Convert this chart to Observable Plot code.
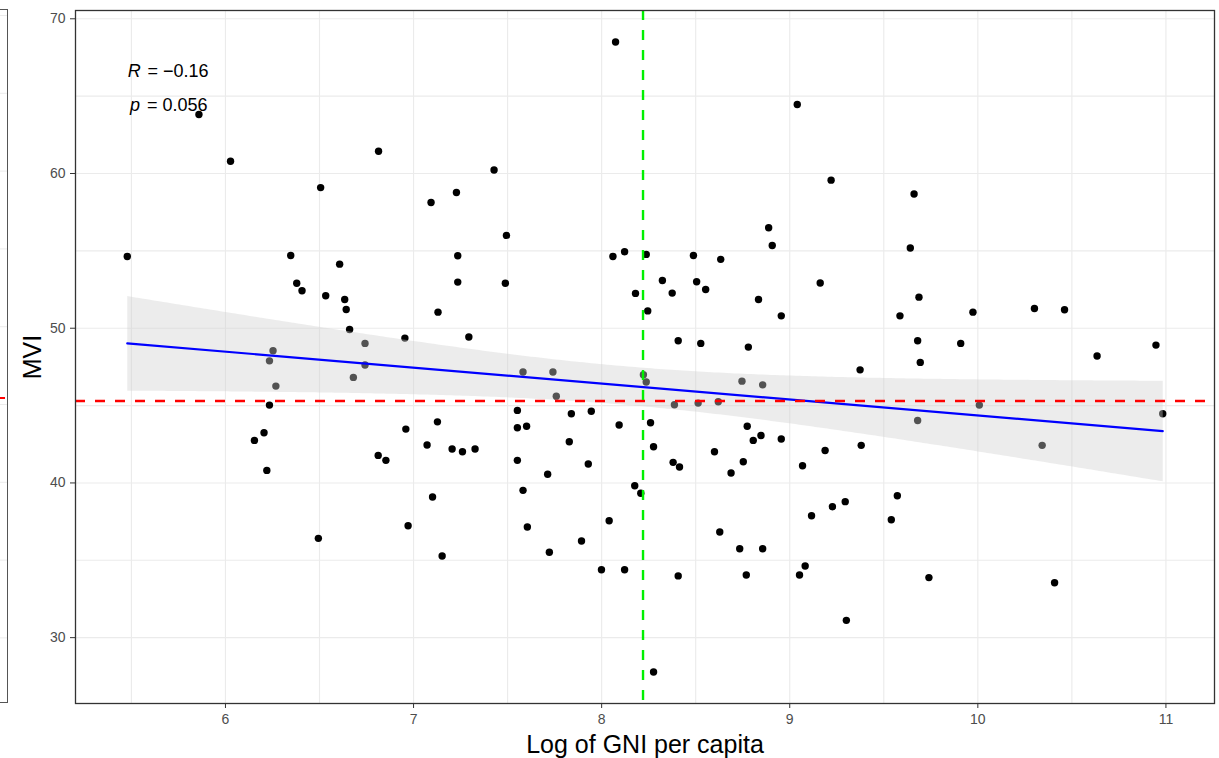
<!DOCTYPE html>
<html>
<head>
<meta charset="utf-8">
<script src="https://cdn.jsdelivr.net/npm/d3@7"></script>
<script src="https://cdn.jsdelivr.net/npm/@observablehq/plot@0.6"></script>
<style>
  html, body { margin: 0; padding: 0; background: #fff; }
  body { width: 1219px; height: 758px; position: relative; overflow: hidden; font-family: "Liberation Sans", Arial, sans-serif; }
  #chart { position: absolute; left: 0; top: 0; }
  #sliver {
    position: absolute; left: -2px; top: 9px; width: 8.5px; height: 692px;
    border: 1.4px solid #555; border-left: none;
    background-image: linear-gradient(to bottom, transparent 0, transparent 76.6px, #ebebeb 76.6px, #ebebeb 77.8px);
    background-size: 100% 77.8px;
    background-position: 0 6px;
    z-index: 2;
  }
  #sliverRef { position: absolute; left: 0; top: 397px; width: 5px; height: 2.4px; background: #ff0000; z-index: 3; }
</style>
</head>
<body>
<div id="chart"></div>
<div id="sliver"></div>
<div id="sliverRef"></div>
<script>
// Log of GNI per capita (x) and MVI (y)
const gniLog = [
  5.478, 5.859, 6.027, 6.506, 6.814, 6.347, 8.074, 9.040, 7.093, 7.228,
  7.428, 7.494, 7.235, 8.060, 8.122, 8.237, 8.488, 8.633, 8.888, 8.907,
  9.220, 9.661, 9.641, 6.379, 6.407, 6.533, 6.607, 6.634, 6.642, 6.660,
  6.742, 6.742, 6.680, 6.253, 6.234, 6.268, 6.234, 6.205, 6.154, 6.220,
  6.954, 6.959, 6.812, 6.853, 7.235, 7.488, 7.130, 7.294, 8.180, 8.245,
  8.323, 8.375, 8.505, 8.553, 8.834, 8.955, 9.162, 8.407, 8.527, 8.780,
  7.582, 7.741, 7.759, 8.222, 8.237, 8.746, 8.856, 8.387, 8.513, 8.620,
  7.127, 7.072, 7.205, 7.260, 7.327, 7.552, 7.552, 7.601, 7.839, 7.945,
  7.828, 7.552, 7.713, 7.929, 8.093, 8.260, 8.276, 8.380, 8.414, 8.600,
  8.688, 8.753, 8.774, 8.806, 8.847, 8.955, 9.068, 7.582, 7.101, 8.176,
  8.208, 9.687, 9.586, 9.974, 10.301, 10.461, 9.680, 9.909, 9.694, 10.634,
  10.947, 9.374, 10.008, 9.680, 10.342, 10.983, 9.188, 9.380, 9.572, 9.227,
  9.295, 6.494, 6.971, 7.152, 7.605, 7.722, 7.893, 8.040, 7.999, 8.122,
  8.407, 8.276, 8.628, 8.734, 8.856, 8.769, 9.052, 9.082, 9.116, 9.540,
  9.740, 10.408, 9.301
];
const mvi = [
  54.64, 63.81, 60.79, 59.09, 61.44, 54.70, 68.50, 64.46, 58.13, 58.77,
  60.23, 56.00, 54.68, 54.64, 54.94, 54.77, 54.70, 54.45, 56.49, 55.35,
  59.57, 58.68, 55.19, 52.91, 52.42, 52.10, 54.14, 51.86, 51.21, 49.92,
  49.02, 47.62, 46.82, 48.54, 47.89, 46.26, 45.03, 43.24, 42.75, 40.81,
  49.36, 43.48, 41.78, 41.46, 52.98, 52.91, 51.04, 49.43, 52.25, 51.12,
  53.08, 52.27, 53.00, 52.50, 51.86, 50.80, 52.92, 49.19, 49.02, 48.78,
  47.17, 47.17, 45.61, 46.99, 46.52, 46.58, 46.34, 45.05, 45.16, 45.25,
  43.95, 42.45, 42.19, 42.02, 42.19, 44.69, 43.57, 43.66, 44.47, 44.63,
  42.66, 41.46, 40.56, 41.22, 43.74, 43.89, 42.34, 41.33, 41.03, 42.02,
  40.64, 41.37, 43.66, 42.75, 43.07, 42.84, 41.11, 39.52, 39.09, 39.82,
  39.33, 52.01, 50.80, 51.04, 51.27, 51.19, 49.19, 49.02, 47.79, 48.20,
  48.91, 47.31, 45.03, 44.04, 42.43, 44.47, 42.10, 42.43, 39.17, 38.46,
  38.79, 36.42, 37.23, 35.28, 37.15, 35.52, 36.25, 37.56, 34.39, 34.39,
  33.99, 27.78, 36.83, 35.75, 35.75, 34.05, 34.05, 34.63, 37.88, 37.62,
  33.88, 33.55, 31.12
];
const xTicks = [6, 7, 8, 9, 10, 11];
const yTicks = [30, 40, 50, 60, 70];
const xGrid = [5.5, 6, 6.5, 7, 7.5, 8, 8.5, 9, 9.5, 10, 10.5, 11];
const yGrid = [30, 35, 40, 45, 50, 55, 60, 65, 70];
const mviReference = [45.3];
const gniReference = [8.22];
const corStatLabels = ["R", "p"];
const corValueLabels = ["= \u22120.16", "= 0.056"];
const xTitle = "Log of GNI per capita";
const yTitle = "MVI";

const data = gniLog.map((x, i) => ({x, y: mvi[i]}));
const [x0, x1] = d3.extent(gniLog);
const [y0, y1] = d3.extent(mvi);
const ex = (x1 - x0) * 0.05, ey = (y1 - y0) * 0.05;

const font = "Liberation Sans, Arial, sans-serif";
const corMarks = corStatLabels.flatMap((s, i) => [
  Plot.text([x0], {x: d => d, frameAnchor: "top", lineAnchor: "middle", dy: 61 + i * 34, dx: i === 0 ? 0.5 : 2.7,
    textAnchor: "start", fontStyle: "italic", fontSize: 18, fill: "#000", text: () => s}),
  Plot.text([x0], {x: d => d, frameAnchor: "top", lineAnchor: "middle", dy: 61 + i * 34, dx: 20.3 - i * 0.6,
    textAnchor: "start", fontSize: 18, fill: "#000", text: () => corValueLabels[i]})
]);

const chart = Plot.plot({
  width: 1219,
  height: 758,
  marginLeft: 75,
  marginRight: 5,
  marginTop: 10,
  marginBottom: 55,
  style: {fontFamily: font, background: "transparent", overflow: "visible"},
  x: {domain: [x0 - ex, x1 + ex]},
  y: {domain: [y0 - ey, y1 + ey]},
  marks: [
    Plot.gridX(xGrid, {stroke: "#ebebeb", strokeOpacity: 1, strokeWidth: 1.1}),
    Plot.gridY(yGrid, {stroke: "#ebebeb", strokeOpacity: 1, strokeWidth: 1.1}),
    Plot.dot(data, {x: "x", y: "y", r: 3.7, fill: "#000", stroke: "none"}),
    Plot.linearRegressionY(data, {x: "x", y: "y", stroke: "#0000ff", strokeWidth: 2.2, fill: "#cfcfcf", fillOpacity: 0.4, ci: 0.95}),
    Plot.ruleY(mviReference, {stroke: "#ff0000", strokeWidth: 2.4, strokeDasharray: "10,10"}),
    Plot.ruleX(gniReference, {stroke: "#00f000", strokeWidth: 2.4, strokeDasharray: "10,10"}),
    Plot.frame({stroke: "#333", strokeWidth: 1.3}),
    Plot.axisX(xTicks, {tickSize: 5, tickPadding: 6, fontSize: 14, stroke: "#333", fill: "#4d4d4d", label: null, tickFormat: d => String(d)}),
    Plot.axisY(yTicks, {tickSize: 5, tickPadding: 5, fontSize: 14, stroke: "#333", fill: "#4d4d4d", label: null, tickFormat: d => String(d)}),
    Plot.text([xTitle], {frameAnchor: "bottom", lineAnchor: "middle", textAnchor: "middle", dy: 41, fontSize: 25, fill: "#000", text: d => d}),
    Plot.text([yTitle], {frameAnchor: "left", lineAnchor: "middle", textAnchor: "middle", dx: -43, rotate: -90, fontSize: 25, fill: "#000", text: d => d}),
    ...corMarks
  ]
});
document.getElementById("chart").appendChild(chart);
</script>
</body>
</html>
